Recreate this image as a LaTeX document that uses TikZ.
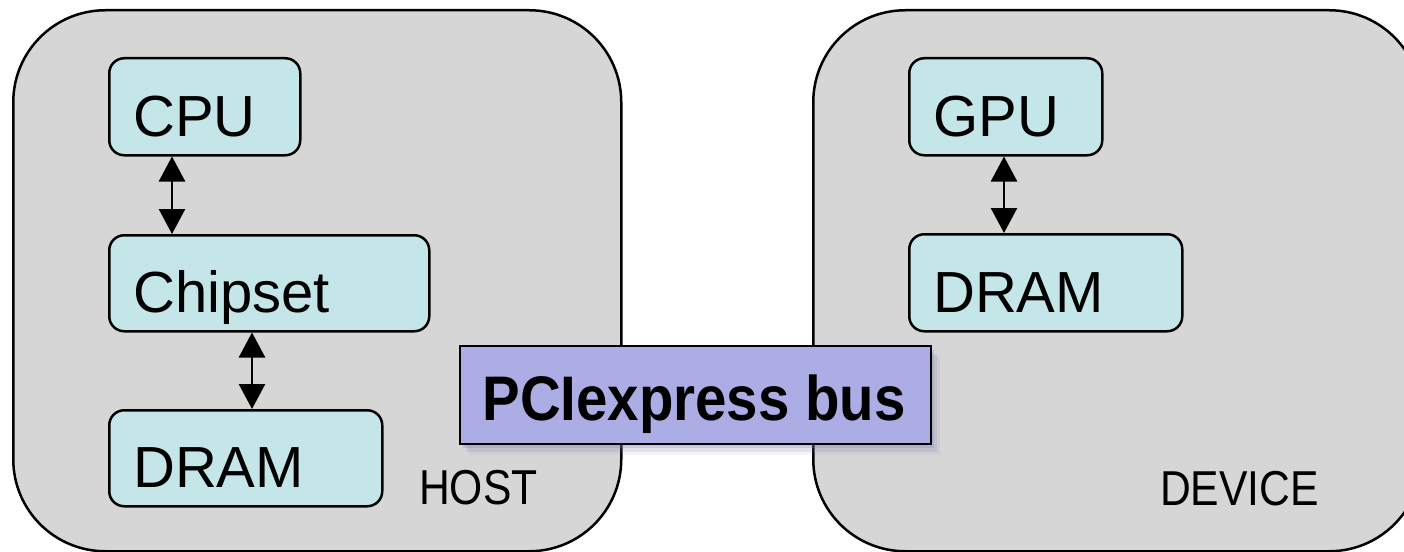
\documentclass[tikz,border=0pt]{standalone}
\usepackage{fontspec}
\setmainfont{Liberation Sans}
\newfontfamily\labfont[FakeStretch=0.87]{Liberation Sans}
\newfontfamily\busfont[FakeStretch=0.895]{Liberation Sans}
\usetikzlibrary{arrows.meta,shadows}
\definecolor{bggray}{RGB}{214,214,214}
\definecolor{cyanbox}{RGB}{196,230,232}
\definecolor{lavbox}{RGB}{173,173,230}
\definecolor{shadowc}{RGB}{120,120,175}
\tikzset{
  bigbox/.style={draw=black, line width=2.5pt, fill=bggray, rounded corners=92pt,
    anchor=north west, minimum width=608pt, minimum height=541pt, inner sep=0pt},
  inbox/.style={draw=black, line width=2.5pt, fill=cyanbox, rounded corners=15pt,
    anchor=north west, inner sep=0pt},
  intext/.style={anchor=base west, inner sep=0pt, font=\fontsize{58}{60}\selectfont},
  labtext/.style={anchor=base west, inner sep=0pt, font=\labfont\fontsize{49}{52}\selectfont},
  busbox/.style={draw=black, line width=2.2pt, fill=lavbox, anchor=north west, inner sep=0pt,
    general shadow={shadow xshift=3pt, shadow yshift=-4pt, fill=shadowc, opacity=.25},
    general shadow={shadow xshift=6pt, shadow yshift=-8pt, fill=shadowc, opacity=.15},
    general shadow={shadow xshift=9pt, shadow yshift=-11pt, fill=shadowc, opacity=.08}},
  bustext/.style={anchor=base, inner sep=0pt, font=\busfont\bfseries\fontsize{63}{66}\selectfont},
  biarrow/.style={line width=2.5pt, {Triangle[width=26pt,length=25pt]}-{Triangle[width=26pt,length=25pt]}}
}
\begin{document}
\begin{tikzpicture}[x=1pt,y=-1pt]
\useasboundingbox (0,0) rectangle (1404,551);
\clip (0,0) rectangle (1404,551);
% big boxes
\node[bigbox] (host) at (12,9) {};
\node[bigbox] (device) at (812,9) {};
% host inner boxes
\node[inbox, minimum width=191pt, minimum height=97pt] (cpu) at (108,57) {};
\node[intext] (cpuT) at (133,136) {CPU};
\node[inbox, minimum width=320pt, minimum height=96pt] (chip) at (108,234) {};
\node[intext] (chipT) at (133,312) {Chipset};
\node[inbox, minimum width=273pt, minimum height=96pt] (hdram) at (108,409) {};
\node[intext] (hdramT) at (133,487) {DRAM};
\node[labtext] (hostT) at (419,504) {HOST};
% device inner boxes
\node[inbox, minimum width=193pt, minimum height=97pt] (gpu) at (908,57) {};
\node[intext] (gpuT) at (933,136) {GPU};
\node[inbox, minimum width=273pt, minimum height=97pt] (ddram) at (908,233) {};
\node[intext] (ddramT) at (933,312) {DRAM};
\node[labtext] (devT) at (1160,505) {DEVICE};
% arrows
\draw[biarrow] ([xshift=64pt]cpu.south west) -- ([xshift=64pt]chip.north west);
\draw[biarrow] ([xshift=144pt]chip.south west) -- ([xshift=144pt]hdram.north west);
\draw[biarrow] ([xshift=96pt]gpu.south west) -- ([xshift=96pt]ddram.north west);
% PCIe bus
\node[busbox, minimum width=471pt, minimum height=98pt] (bus) at (459,345) {};
\node[bustext] (busT) at (694,420) {PCIexpress bus};
\end{tikzpicture}
\end{document}
